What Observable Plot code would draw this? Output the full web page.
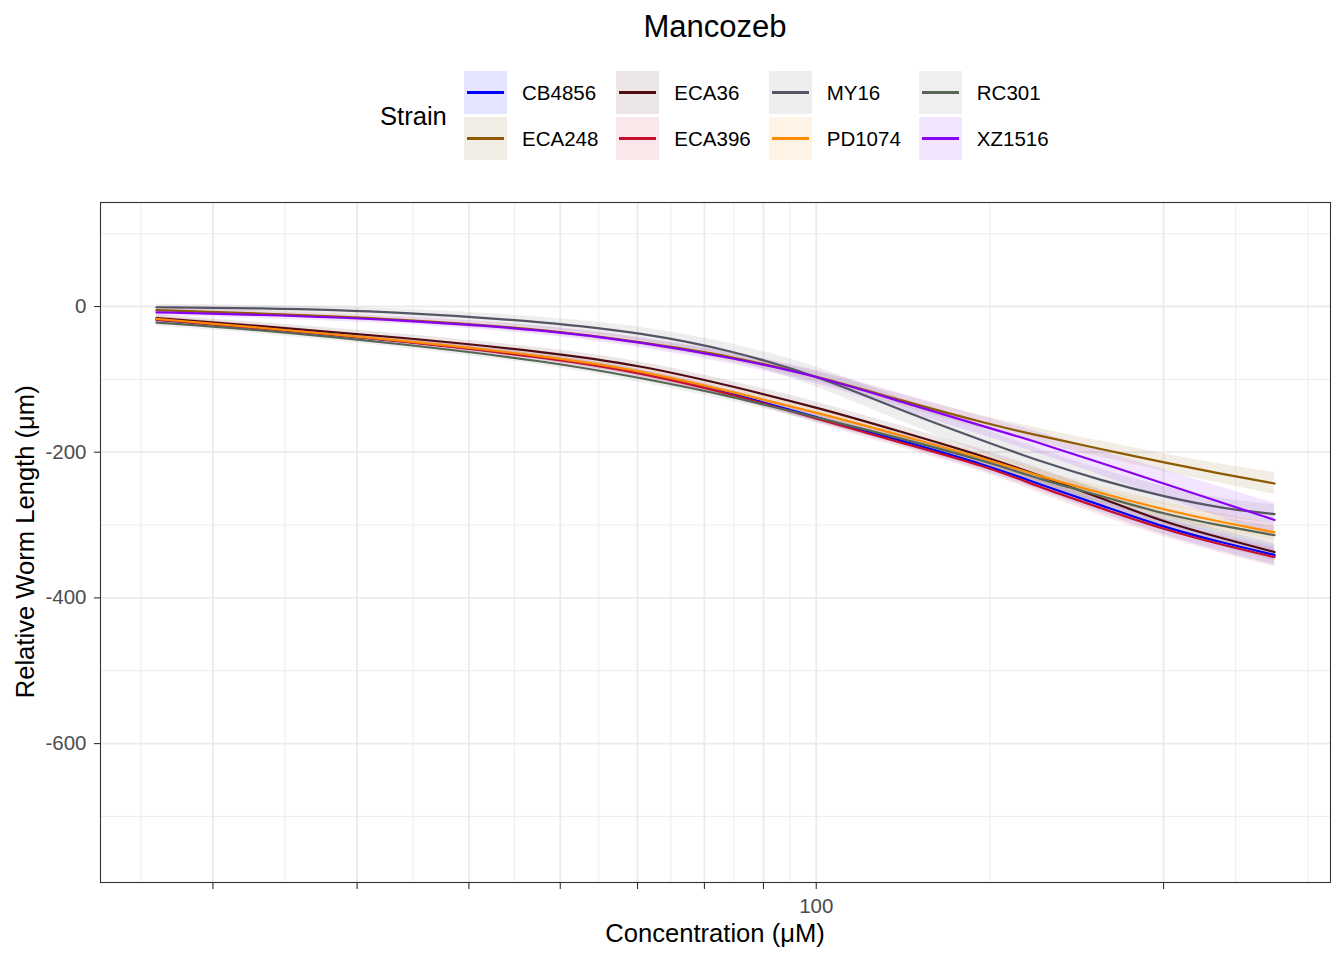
<!DOCTYPE html>
<html>
<head>
<meta charset="utf-8">
<script src="https://cdn.jsdelivr.net/npm/d3@7"></script>
<script src="https://cdn.jsdelivr.net/npm/@observablehq/plot@0.6"></script>
<style>
  body { margin: 0; background: #fff; font-family: "Liberation Sans", Arial, Helvetica, sans-serif; }
  #wrap { position: relative; width: 1344px; height: 960px; overflow: hidden; background: #fff; }
  .abs { position: absolute; white-space: nowrap; line-height: 1; color: #000; }
  #title { left: 100px; width: 1230px; top: 11px; text-align: center; font-size: 31px; }
  #legtitle { left: 380px; top: 104px; font-size: 25.6px; }
  #legend { position: absolute; left: 464px; top: 71px; display: flex; }
  .col { display: flex; flex-direction: column; gap: 3px; padding-right: 18px; }
  .item { display: flex; align-items: center; height: 43px; }
  .key { position: relative; width: 43px; height: 43px; flex: none; }
  .key .ln { position: absolute; left: 3px; right: 3px; top: 20px; height: 2.7px; }
  .lab { margin-left: 15px; font-size: 20.5px; color: #000; }
  #xtitle { left: 100px; width: 1230px; top: 921px; text-align: center; font-size: 25.6px; }
  #ytitle { left: -274px; width: 600px; top: 529px; text-align: center; font-size: 25.6px; transform: rotate(-90deg); }
  #chart { position: absolute; left: 0; top: 180px; }
</style>
</head>
<body>
<div id="wrap">
  <div id="title" class="abs"></div>
  <div id="legtitle" class="abs"></div>
  <div id="legend"></div>
  <div id="chart"></div>
  <div id="xtitle" class="abs"></div>
  <div id="ytitle" class="abs"></div>
</div>
<script>
// ---- text ----
const chartTitle = "Mancozeb";
const legendTitle = "Strain";
const xTitle = "Concentration (μM)";
const yTitle = "Relative Worm Length (μm)";

// ---- data ----
const strains = ["CB4856", "ECA248", "ECA36", "ECA396", "MY16", "PD1074", "RC301", "XZ1516"];
const strainColors = ["#0000FF", "#8E5B00", "#4F0A14", "#C8102E", "#555566", "#FF8C00", "#556655", "#8A00F2"];

const conc = [26.8, 32.4, 43.6, 58.9, 70.5, 84.4, 101, 118.5, 141.5, 156.7, 176.7, 200, 224.5, 249.6];

const CB4856 = [-18, -28, -47, -70, -90, -119, -154, -184, -219, -245, -273, -303, -324, -341];
const ECA248 = [-5, -9, -17, -32, -49, -68, -97, -129, -162, -178, -196, -214, -230, -243];
const ECA36  = [-16, -26, -42, -63, -81, -109, -140, -172, -208, -233, -263, -296, -318, -337];
const ECA396 = [-18, -29, -47, -71, -91, -120, -156, -187, -221, -249, -277, -306, -327, -344];
const MY16   = [-1, -2, -7, -22, -36, -60, -97, -143, -188, -213, -239, -261, -277, -285];
const PD1074 = [-17, -28, -46, -69, -88, -117, -147, -177, -211, -234, -256, -279, -296, -310];
const RC301  = [-22, -31, -51, -76, -98, -123, -154, -181, -214, -238, -260, -285, -301, -314];
const XZ1516 = [-8, -11, -18, -33, -49, -70, -97, -131, -167, -188, -215, -243, -269, -293];

// confidence band half-widths
const CB4856_band = [4, 4, 4, 4, 5, 5, 6, 7, 8, 9, 10, 11, 12, 14];
const ECA248_band = [4, 4, 4, 5, 5, 6, 7, 8, 9, 10, 11, 12, 13, 15];
const ECA36_band  = [5, 5, 5, 6, 6, 7, 8, 8, 9, 10, 10, 11, 11, 12];
const ECA396_band = [4, 4, 4, 4, 5, 5, 6, 7, 8, 9, 10, 11, 12, 13];
const MY16_band   = [4, 4, 5, 7, 9, 11, 14, 16, 17, 16, 15, 13, 12, 13];
const PD1074_band = [4, 4, 4, 4, 5, 5, 6, 6, 7, 8, 9, 10, 11, 12];
const RC301_band  = [5, 5, 5, 5, 6, 6, 6, 7, 7, 8, 9, 10, 11, 12];
const XZ1516_band = [5, 5, 5, 6, 7, 8, 9, 11, 13, 15, 17, 19, 21, 23];

// ---- ticks / grid ----
const xMajor = [30, 40, 50, 60, 70, 80, 90, 100, 200];
const xLabelled = [100];
const xMinor = [25.98, 34.64, 44.72, 54.77, 64.81, 74.83, 84.85, 94.87, 141.42, 230.94, 266.67];
const yMajor = [0, -200, -400, -600];
const yMinor = [100, -100, -300, -500, -700];
const yDomain = [-790.7, 142.8];

// ---- build tidy table ----
const seriesList = [CB4856, ECA248, ECA36, ECA396, MY16, PD1074, RC301, XZ1516];
const bandList = [CB4856_band, ECA248_band, ECA36_band, ECA396_band, MY16_band, PD1074_band, RC301_band, XZ1516_band];
const rows = [];
strains.forEach((s, i) => {
  conc.forEach((c, j) => {
    const v = seriesList[i][j], b = bandList[i][j];
    rows.push({strain: s, conc: c, value: v, lo: v - b, hi: v + b});
  });
});

const l0 = Math.log10(d3.min(conc)), l1 = Math.log10(d3.max(conc));
const pad = 0.05 * (l1 - l0);
const xDomain = [Math.pow(10, l0 - pad), Math.pow(10, l1 + pad)];

const font = '"Liberation Sans", Arial, Helvetica, sans-serif';

const plot = Plot.plot({
  width: 1344,
  height: 780,
  marginTop: 22,
  marginBottom: 78,
  marginLeft: 100,
  marginRight: 14,
  style: {fontFamily: font, fontSize: "20.5px", background: "transparent", overflow: "visible"},
  x: {type: "log", domain: xDomain},
  y: {domain: yDomain},
  color: {domain: strains, range: strainColors},
  marks: [
    Plot.ruleX(xMinor, {stroke: "#EBEBEB", strokeWidth: 0.9}),
    Plot.ruleY(yMinor, {stroke: "#EBEBEB", strokeWidth: 0.9}),
    Plot.ruleX(xMajor, {stroke: "#EBEBEB", strokeWidth: 1.8}),
    Plot.ruleY(yMajor, {stroke: "#EBEBEB", strokeWidth: 1.8}),
    Plot.areaY(rows, {x: "conc", y1: "lo", y2: "hi", z: "strain", fill: "strain", fillOpacity: 0.1, curve: "basis"}),
    Plot.line(rows, {x: "conc", y: "value", z: "strain", stroke: "strain", strokeWidth: 2.2, curve: "basis"}),
    Plot.frame({stroke: "#333333", strokeWidth: 1.1}),
    Plot.axisX({ticks: xMajor, tickFormat: d => xLabelled.includes(d) ? String(d) : "", tickSize: 7, tickPadding: 9, label: null, stroke: "#333333", fill: "#4D4D4D", strokeWidth: 1.1}),
    Plot.axisY({ticks: yMajor, tickFormat: d => String(d), tickSize: 6, tickPadding: 8, label: null, stroke: "#333333", fill: "#4D4D4D", strokeWidth: 1.1})
  ]
});
document.getElementById("chart").appendChild(plot);

// ---- titles ----
document.getElementById("title").textContent = chartTitle;
document.getElementById("legtitle").textContent = legendTitle;
document.getElementById("xtitle").textContent = xTitle;
document.getElementById("ytitle").textContent = yTitle;

// ---- legend (2 rows, filled by column) ----
const legend = document.getElementById("legend");
const nRows = 2;
for (let c = 0; c < Math.ceil(strains.length / nRows); c++) {
  const col = document.createElement("div");
  col.className = "col";
  for (let r = 0; r < nRows; r++) {
    const i = c * nRows + r;
    if (i >= strains.length) break;
    const item = document.createElement("div");
    item.className = "item";
    const key = document.createElement("div");
    key.className = "key";
    const col0 = d3.color(strainColors[i]);
    col0.opacity = 0.1;
    key.style.background = col0.formatRgb();
    const ln = document.createElement("div");
    ln.className = "ln";
    ln.style.background = strainColors[i];
    key.appendChild(ln);
    const lab = document.createElement("span");
    lab.className = "lab";
    lab.textContent = strains[i];
    item.appendChild(key);
    item.appendChild(lab);
    col.appendChild(item);
  }
  legend.appendChild(col);
}
</script>
</body>
</html>
